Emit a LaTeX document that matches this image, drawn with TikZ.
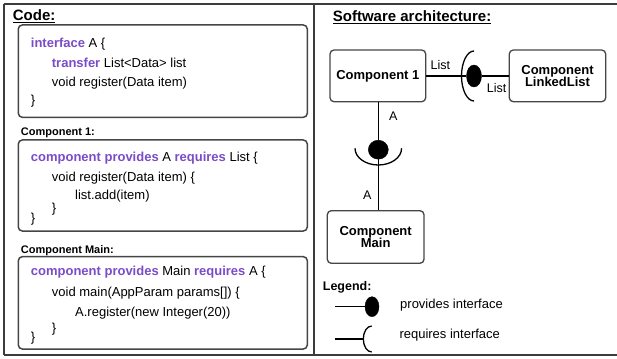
\documentclass[tikz,border=0pt]{standalone}
\usepackage{fontspec}
\setmainfont{Liberation Sans}
\usetikzlibrary{shapes.geometric,calc}
\definecolor{kw}{RGB}{122,76,200}
\definecolor{framec}{RGB}{60,60,60}
\definecolor{boxc}{RGB}{70,70,70}
\newcommand{\kwd}[1]{\textbf{\textcolor{kw}{#1}}}
\begin{document}
\begin{tikzpicture}[x=1pt,y=-1pt,
  frameline/.style={draw=framec,line width=1.6pt},
  codebox/.style={draw=boxc,line width=1.5pt,rounded corners=4pt},
  codeline/.style={anchor=base west,inner sep=0pt,font=\fontsize{13}{15}\selectfont},
  sublabel/.style={anchor=base west,inner sep=0pt,font=\fontsize{11}{13}\selectfont\bfseries},
  header/.style={anchor=base west,inner sep=0pt,font=\fontsize{15}{17}\selectfont\bfseries},
  comp/.style={draw=boxc,line width=1.3pt,rounded corners=4pt,align=center,inner sep=0pt,
    font=\fontsize{13}{12.5}\selectfont\bfseries},
  conn/.style={draw=black,line width=1.3pt},
  ball/.style={ellipse,fill=black,draw=black,inner sep=0pt},
  lbl/.style={inner sep=0pt,font=\fontsize{12.5}{14}\selectfont},
  legtext/.style={anchor=base west,inner sep=0pt,font=\fontsize{13}{15}\selectfont}]
\useasboundingbox (0,0) rectangle (617,358);
\clip (0,0) rectangle (617,358);
\fill[white] (0,0) rectangle (617,358);
% frame
\draw[frameline] (4,4) -- (625,4);
\draw[frameline] (4,355) -- (625,355);
\draw[frameline] (4,4) -- (4,355);
\draw[frameline] (314,4) -- (314,355);
% headers
\node[header] (hcode) at (12.7,20.5) {\underline{Code:}};
\node[header] (harch) at (332.7,22) {\underline{Software architecture:}};
% code box 1
\draw[codebox] (18.3,25) rectangle (307.3,117.3);
\node[codeline] (l11) at (30.7,48) {\kwd{interface} A \{};
\node[codeline] (l12) at (51.7,68) {\kwd{transfer} List<Data> list};
\node[codeline] (l13) at (51.7,87) {void register(Data item)};
\node[codeline] (l14) at (30.7,105) {\}};
% code box 2
\node[sublabel] (s2) at (20.7,135.5) {Component 1:};
\draw[codebox] (18.3,140) rectangle (307.3,231);
\node[codeline] (l21) at (30.7,161.3) {\kwd{component} \kwd{provides} A \kwd{requires} List \{};
\node[codeline] (l22) at (51.7,181.3) {void register(Data item) \{};
\node[codeline] (l23) at (75,199.6) {list.add(item)};
\node[codeline] (l24) at (51.7,212.8) {\}};
\node[codeline] (l25) at (30.7,222.8) {\}};
% code box 3
\node[sublabel] (s3) at (20.7,253.3) {Component Main:};
\draw[codebox] (18.3,256.7) rectangle (307.3,349);
\node[codeline] (l31) at (30.7,275.3) {\kwd{component} \kwd{provides} Main \kwd{requires} A \{};
\node[codeline] (l32) at (51.7,296.9) {void main(AppParam params[]) \{};
\node[codeline] (l33) at (75,316.9) {A.register(new Integer(20))};
\node[codeline] (l34) at (51.7,332.8) {\}};
\node[codeline] (l35) at (30.7,341.2) {\}};
% architecture
\node[comp,minimum width=95.7,minimum height=51.7] (c1) at (377.85,75.85) {Component 1};
\node[comp,minimum width=96.4,minimum height=51.7] (cll) at (557.5,75.85) {Component\\LinkedList};
\node[comp,minimum width=96.7,minimum height=52.6] (cmain) at (375.65,237) {Component\\Main};
\node[ball,minimum width=15,minimum height=22] (b1) at (474,76) {};
\node[ball,minimum width=20,minimum height=19] (b2) at (378.3,149.7) {};
\coordinate (sk1) at (474,76);
\coordinate (sk2) at (378.3,148.3);
\draw[conn] (c1.east |- sk1) -- (b1.west);
\draw[conn] (b1.east) -- (cll.west |- b1.east);
\draw[conn] (sk1) ++(0,-25) arc[start angle=270,end angle=90,x radius=12.5,y radius=25];
\draw[conn] (b2.north) -- (b2.north |- c1.south);
\draw[conn] (b2.south) -- (b2.south |- cmain.north);
\draw[conn] (sk2) ++(-23.3,0) arc[start angle=180,end angle=0,x radius=23.3,y radius=16.7];
\node[lbl] (t1) at (440.3,65) {List};
\node[lbl] (t2) at (496.7,88.3) {List};
\node[lbl] (t3) at (393.3,116.7) {A};
\node[lbl] (t4) at (367.3,195) {A};
% legend
\node[sublabel,font=\fontsize{12.5}{14}\selectfont\bfseries] (leg) at (322.7,290.5) {Legend:};
\coordinate (lp) at (335,306.7);
\node[ball,minimum width=14,minimum height=20] (lb) at (372,306.7) {};
\draw[conn] (lp) -- (lb.west);
\node[legtext] (lt1) at (400,308.8) {provides interface};
\coordinate (lr) at (335,339);
\coordinate (lsk) at (371.7,339);
\draw[conn] (lr) -- (363.3,339);
\draw[conn] (lsk) ++(0,-13) arc[start angle=270,end angle=90,x radius=8.4,y radius=13];
\node[legtext] (lt2) at (399.3,338.5) {requires interface};
\end{tikzpicture}
\end{document}
